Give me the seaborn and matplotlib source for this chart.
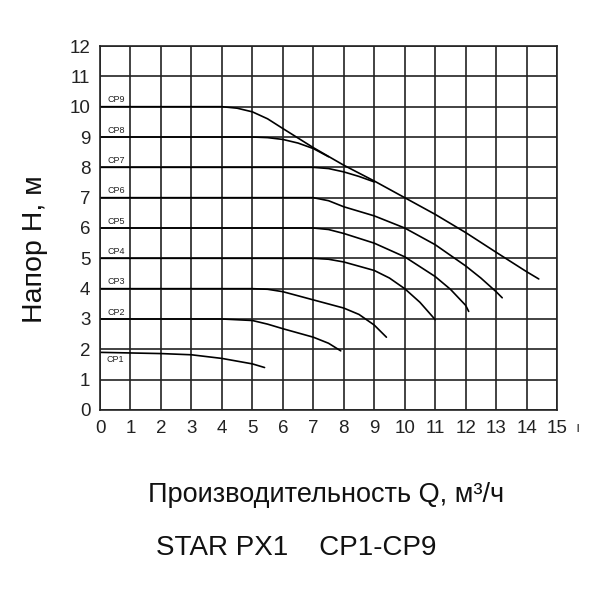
import pandas as pd
import numpy as np
import matplotlib
matplotlib.use('Agg')
import matplotlib.pyplot as plt
import seaborn as sns

# pump curves STAR PX1, speeds CP1..CP9 (Q in m3/h, H in m)
cp1_q = [0, 1, 2, 3, 4, 5, 5.4]
cp1_h = [1.9, 1.88, 1.86, 1.82, 1.7, 1.52, 1.4]
cp2_q = [0, 4, 5, 5.5, 6, 7, 7.5, 7.9]
cp2_h = [3.0, 3.0, 2.95, 2.83, 2.68, 2.4, 2.2, 1.95]
cp3_q = [0, 5, 5.5, 6, 7, 8, 8.5, 9, 9.4]
cp3_h = [4.0, 4.0, 3.98, 3.9, 3.63, 3.36, 3.15, 2.8, 2.4]
cp4_q = [0, 7, 7.5, 8, 9, 9.5, 10, 10.5, 11]
cp4_h = [5.0, 5.0, 4.97, 4.88, 4.6, 4.35, 4.0, 3.55, 2.98]
cp5_q = [0, 7, 7.5, 8, 9, 10, 11, 11.5, 12, 12.1]
cp5_h = [6.0, 6.0, 5.95, 5.82, 5.5, 5.05, 4.4, 3.98, 3.45, 3.25]
cp6_q = [0, 7, 7.5, 8, 9, 10, 11, 12, 12.5, 13, 13.2]
cp6_h = [7.0, 7.0, 6.9, 6.7, 6.4, 6.0, 5.45, 4.75, 4.35, 3.9, 3.7]
cp7_q = [0, 7, 7.5, 8, 8.5, 9]
cp7_h = [8.0, 8.0, 7.96, 7.85, 7.7, 7.52]
cp8_q = [0, 5, 5.5, 6, 6.5, 7, 7.5]
cp8_h = [9.0, 9.0, 8.98, 8.92, 8.8, 8.62, 8.35]
cp9_q = [0, 4, 4.5, 5, 5.5, 6, 7, 8, 9, 10, 11, 12, 13, 14, 14.4]
cp9_h = [10.0, 10.0, 9.95, 9.83, 9.6, 9.28, 8.65, 8.07, 7.55, 7.0, 6.45, 5.85, 5.2, 4.56, 4.32]

curve_names = ['CP1', 'CP2', 'CP3', 'CP4', 'CP5', 'CP6', 'CP7', 'CP8', 'CP9']
all_q = [cp1_q, cp2_q, cp3_q, cp4_q, cp5_q, cp6_q, cp7_q, cp8_q, cp9_q]
all_h = [cp1_h, cp2_h, cp3_h, cp4_h, cp5_h, cp6_h, cp7_h, cp8_h, cp9_h]

x_ticks = list(range(0, 16))
y_ticks = list(range(0, 13))

rows = []
for name, qs, hs in zip(curve_names, all_q, all_h):
    for q, h in zip(qs, hs):
        rows.append({'Q': q, 'H': h, 'curve': name})
df = pd.DataFrame(rows)

sns.set_style('white')
plt.rcParams['font.family'] = ['Liberation Sans', 'DejaVu Sans']

fig = plt.figure(figsize=(6, 6), dpi=100)
ax = fig.add_axes([0.1667, 0.3167, 0.7617, 0.6066])

sns.lineplot(data=df, x='Q', y='H', units='curve', estimator=None,
             sort=False, color='black', linewidth=1.2, ax=ax)

ax.set_xlim(0, 15)
ax.set_ylim(0, 12)
ax.set_xticks(x_ticks)
ax.set_yticks(y_ticks)
ax.grid(True, color='#222222', linewidth=1.2)
for s in ax.spines.values():
    s.set_color('#222222')
    s.set_linewidth(1.2)
ax.tick_params(length=0, labelsize=13.5, colors='#222222', pad=7)
ax.set_xlabel('')
ax.set_ylabel('')

# curve labels near the left edge (CP1 sits under its curve)
for name, hs in zip(curve_names, all_h):
    if name == 'CP1':
        ax.text(0.2, hs[0] - 0.1, name, fontsize=6.5, color='#222222',
                ha='left', va='top')
    else:
        ax.text(0.25, hs[0] + 0.08, name, fontsize=6.5, color='#222222',
                ha='left', va='bottom')

ax.text(15.67, -0.6, 'ı', fontsize=11, color='#444444', ha='center', va='center',
        clip_on=False)

fig.text(0.058, 0.585, 'Напор H, м', rotation=90, fontsize=20.5,
         ha='center', va='center', color='#111111')
fig.text(0.543, 0.175, 'Производительность Q, м³/ч', fontsize=19.5,
         ha='center', va='center', color='#111111')
fig.text(0.493, 0.087, 'STAR PX1    CP1-CP9', fontsize=20,
         ha='center', va='center', color='#111111')

fig.savefig('out.png', dpi=100, facecolor='white')
